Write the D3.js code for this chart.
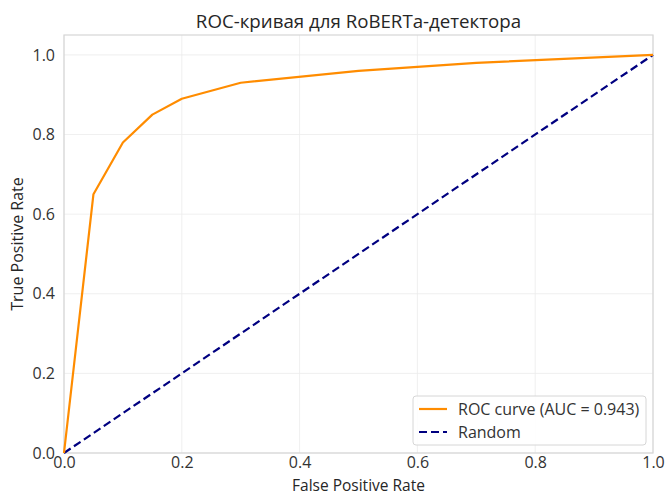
<!DOCTYPE html>
<html>
<head>
<meta charset="utf-8">
<script src="https://cdn.jsdelivr.net/npm/d3@7"></script>
<style>
  body { margin: 0; background: #fff; }
  svg { font-family: "Open Sans", sans-serif; }
</style>
</head>
<body>
<svg id="chart" width="667" height="495"></svg>
<script>
// ROC points
const fpr = [0, 0.05, 0.10, 0.15, 0.20, 0.30, 0.50, 0.70, 1.0];
const tpr = [0, 0.65, 0.78, 0.85, 0.89, 0.93, 0.96, 0.98, 1.0];
const randomLine = [[0, 0], [1, 1]];
const xTicks = [0, 0.2, 0.4, 0.6, 0.8, 1.0];
const yTicks = [0, 0.2, 0.4, 0.6, 0.8, 1.0];
const legendLabels = ["ROC curve (AUC = 0.943)", "Random"];

const svg = d3.select("#chart");
const margin = {top: 35, right: 14, bottom: 42, left: 64};
const width = 667, height = 495;

const x = d3.scaleLinear([0, 1], [margin.left, width - margin.right]);
const y = d3.scaleLinear([0, 1.05], [height - margin.bottom, margin.top]);

// grid
svg.append("g")
  .selectAll("line")
  .data(xTicks)
  .join("line")
    .attr("x1", d => x(d)).attr("x2", d => x(d))
    .attr("y1", y(0)).attr("y2", y(1.05))
    .attr("stroke", "#ebebeb").attr("stroke-width", 0.8);
svg.append("g")
  .selectAll("line")
  .data(yTicks)
  .join("line")
    .attr("x1", x(0)).attr("x2", x(1))
    .attr("y1", d => y(d)).attr("y2", d => y(d))
    .attr("stroke", "#ebebeb").attr("stroke-width", 0.8);

// frame
svg.append("rect")
  .attr("x", x(0)).attr("y", y(1.05))
  .attr("width", x(1) - x(0)).attr("height", y(0) - y(1.05))
  .attr("fill", "none").attr("stroke", "#d6d6d6").attr("stroke-width", 1.2);

// axes (labels only, like seaborn whitegrid)
const xAxis = svg.append("g")
  .attr("transform", `translate(0,${y(0)})`)
  .call(d3.axisBottom(x).tickValues(xTicks).tickFormat(d3.format(".1f")).tickSize(0).tickPadding(4));
const yAxis = svg.append("g")
  .attr("transform", `translate(${x(0)},0)`)
  .call(d3.axisLeft(y).tickValues(yTicks).tickFormat(d3.format(".1f")).tickSize(0).tickPadding(9));
[xAxis, yAxis].forEach(g => {
  g.select(".domain").remove();
  g.selectAll("text")
    .attr("font-family", "Open Sans, sans-serif")
    .attr("font-size", 16)
    .attr("fill", "#333");
});

const line = d3.line().x(d => x(d[0])).y(d => y(d[1]));

// random diagonal
svg.append("path")
  .datum(randomLine)
  .attr("d", line)
  .attr("fill", "none")
  .attr("stroke", "#000080")
  .attr("stroke-width", 2.2)
  .attr("stroke-dasharray", "8,4");

// ROC curve
svg.append("path")
  .datum(d3.zip(fpr, tpr))
  .attr("d", line)
  .attr("fill", "none")
  .attr("stroke", "#ff8c00")
  .attr("stroke-width", 2.2)
  .attr("stroke-linejoin", "round");

// title and axis labels
svg.append("text")
  .attr("x", (x(0) + x(1)) / 2).attr("y", 28)
  .attr("text-anchor", "middle")
  .attr("font-size", 18.7).attr("fill", "#262626")
  .text("ROC-кривая для RoBERTa-детектора");
svg.append("text")
  .attr("x", (x(0) + x(1)) / 2).attr("y", 491)
  .attr("text-anchor", "middle")
  .attr("font-size", 15.5).attr("fill", "#262626")
  .text("False Positive Rate");
svg.append("text")
  .attr("transform", `translate(23,${(y(0) + y(1.05)) / 2}) rotate(-90)`)
  .attr("text-anchor", "middle")
  .attr("font-size", 16).attr("fill", "#262626")
  .text("True Positive Rate");

// legend
const lg = svg.append("g").attr("transform", "translate(413,396)");
lg.append("rect")
  .attr("width", 233).attr("height", 49).attr("rx", 3)
  .attr("fill", "#fff").attr("fill-opacity", 0.85)
  .attr("stroke", "#d6d6d6");
const styles = [{c: "#ff8c00", dash: null}, {c: "#000080", dash: "8,4"}];
legendLabels.forEach((t, i) => {
  const yy = 13 + i * 23;
  lg.append("line")
    .attr("x1", 6).attr("x2", 34).attr("y1", yy).attr("y2", yy)
    .attr("stroke", styles[i].c).attr("stroke-width", 2.2)
    .attr("stroke-dasharray", styles[i].dash);
  lg.append("text")
    .attr("x", 45).attr("y", yy).attr("dy", "0.35em")
    .attr("font-size", 16).attr("fill", "#333")
    .text(t);
});
</script>
</body>
</html>
